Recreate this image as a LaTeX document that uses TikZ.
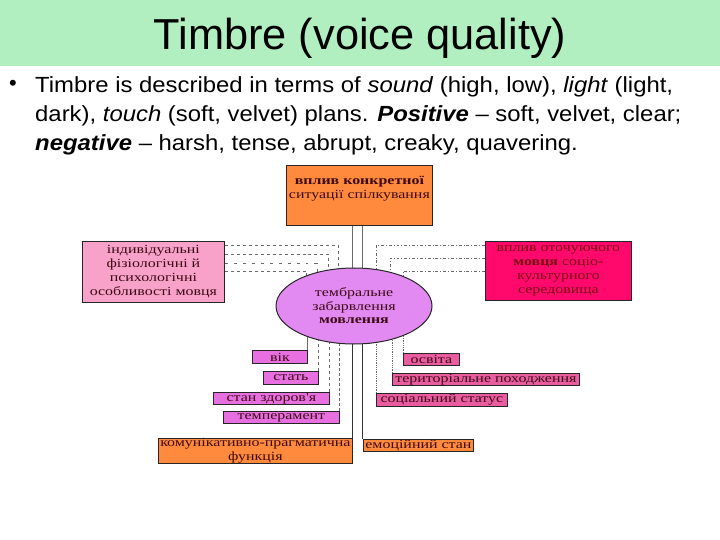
\documentclass[tikz,border=0pt]{standalone}
\usepackage{fontspec}
\setmainfont{Liberation Sans}
\newfontfamily\slidefont{Liberation Sans}[FakeStretch=1.09]
\newfontfamily\cyr{Liberation Serif}[FakeStretch=1.28]
\usetikzlibrary{positioning,backgrounds,shapes.geometric}
\definecolor{band}{HTML}{B2EFC0}
\definecolor{maroon}{HTML}{3C0A14}
\definecolor{tangerine}{HTML}{FF8A3D}
\definecolor{rose}{HTML}{F8A2CA}
\definecolor{crimson}{HTML}{FF0A6C}
\definecolor{lilac}{HTML}{E38AF2}
\definecolor{orchid}{HTML}{E86FE0}
\definecolor{cerise}{HTML}{E95CA0}
\definecolor{wire}{HTML}{6A6A6A}
\tikzset{
  cbox/.style={draw=black!85,line width=0.8bp,inner sep=0pt,anchor=north west,align=center,
    text=maroon,font=\cyr\fontsize{12.5}{14}\selectfont},
  link/.style={draw=wire,line width=0.8bp},
}

\begin{document}
\begin{tikzpicture}[x=1bp,y=-1bp]
  \useasboundingbox (0,0) rectangle (720,540);
  \fill[band] (0,0) rectangle (720,66);
  \node[font=\fontsize{43.5}{50}\selectfont] (title) at (360,38) {Timbre (voice quality)};
  \node[font=\fontsize{22}{24}\selectfont] (dot) at (13,85) {•};
  \node[anchor=north west,align=left,inner sep=0pt,font=\slidefont\fontsize{22}{29.5}\selectfont] (bullet) at (35,76)
    {Timbre is described in terms of \textit{sound} (high, low), \textit{light} (light,\\
     dark), \textit{touch} (soft, velvet) plans. \textbf{\textit{Positive}} – soft, velvet, clear;\\
     \textbf{\textit{negative}} – harsh, tense, abrupt, creaky, quavering.};

  % upper boxes and the centre
  \node[cbox,fill=tangerine,minimum width=146bp,minimum height=60bp] (situation) at (286,165)
    {\raisebox{7bp}[\height][\depth]{\begin{tabular}{@{}c@{}}\textbf{вплив конкретної}\\ситуації спілкування\end{tabular}}};
  \node[cbox,fill=rose,minimum width=142bp,minimum height=61bp] (personal) at (82,241)
    {індивідуальні\\фізіологічні й\\психологічні\\особливості мовця};
  \node[cbox,fill=crimson,text=maroon!70!red,minimum width=146bp,minimum height=59bp] (milieu) at (485,241)
    {вплив оточуючого\\\textbf{мовця} соціо-\\культурного\\середовища};
  \node[draw=black!85,line width=1bp,ellipse,fill=lilac,inner sep=0pt,minimum width=156bp,minimum height=76bp,
    align=center,text=maroon,font=\cyr\fontsize{12.5}{13.5}\selectfont] (timbre) at (354,306)
    {тембральне\\забарвлення\\\textbf{мовлення}};

  % lower boxes
  \node[cbox,fill=orchid,minimum width=55bp,minimum height=13bp] (age) at (252,350) {вік};
  \node[cbox,fill=orchid,minimum width=55bp,minimum height=13bp] (sex) at (263,371) {стать};
  \node[cbox,fill=orchid,minimum width=116bp,minimum height=12bp] (health) at (213,392) {стан здоров'я};
  \node[cbox,fill=orchid,minimum width=116bp,minimum height=12bp] (temper) at (223,411) {темперамент};
  \node[cbox,fill=tangerine,minimum width=194bp,minimum height=24bp] (pragma) at (158,438)
    {комунікативно-прагматична\\функція};
  \node[cbox,fill=tangerine,minimum width=110bp,minimum height=12bp] (emotion) at (363,439) {емоційний стан};
  \node[cbox,fill=cerise,minimum width=56bp,minimum height=12bp] (school) at (403,353) {освіта};
  \node[cbox,fill=cerise,minimum width=187bp,minimum height=12bp] (origin) at (392,373) {територіальне походження};
  \node[cbox,fill=cerise,minimum width=131bp,minimum height=13bp] (status) at (376,393) {соціальний статус};

  \begin{scope}[on background layer]
    \draw[link] ([xshift=-7bp]situation.south) -- ([xshift=-7bp]situation.south |- timbre.center);
    \draw[link] ([xshift=3bp]situation.south) -- ([xshift=3bp]situation.south |- timbre.center);
    \foreach \y/\x/\s in {245/338/dashed, 254/328/dashed, 263/317/loosely dashed, 271/306/dashed}
      \draw[link,\s] (personal.east |- 0,\y) -| (\x,0 |- timbre.center);
    \foreach \y/\x in {245/376, 258/390, 271/403}
      \draw[link,dash dot] (milieu.west |- 0,\y) -| (\x,0 |- timbre.center);
    \foreach \n/\s in {age/solid, sex/dashed, health/dashed, temper/densely dashed}
      \draw[link,\s] (\n.north east) -- (\n.north east |- timbre.center);
    \foreach \n in {school, origin, status}
      \draw[link,densely dotted] (\n.north west) -- (\n.north west |- timbre.center);
    \draw[link,draw=black!80] (pragma.north east) -- (pragma.north east |- timbre.center);
    \draw[link,draw=black!80] ([xshift=-1bp]emotion.north west) -- ([xshift=-1bp]emotion.north west |- timbre.center);
  \end{scope}
\end{tikzpicture}
\end{document}
